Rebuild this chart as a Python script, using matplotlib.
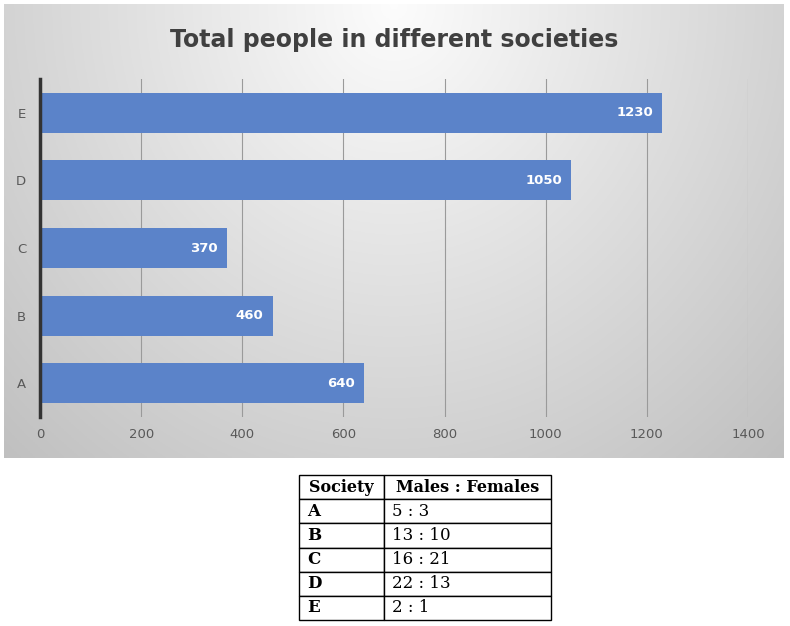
# -*- coding: utf-8 -*-
import numpy as np
import matplotlib
matplotlib.use("Agg")
import matplotlib.pyplot as plt

# Data
societies = ["A", "B", "C", "D", "E"]
totals = [640, 460, 370, 1050, 1230]
ratios = ["5 : 3", "13 : 10", "16 : 21", "22 : 13", "2 : 1"]
x_ticks = [0, 200, 400, 600, 800, 1000, 1200, 1400]

W, H = 790, 626
fig = plt.figure(figsize=(W / 100, H / 100), dpi=100)
fig.patch.set_facecolor("white")

# chart panel with radial grey gradient
bg = fig.add_axes([4 / W, 1 - 458 / H, 780 / W, 454 / H])
yy, xx = np.mgrid[0:1:200j, 0:1:300j]
r = np.sqrt(((xx - 0.5) / 0.8) ** 2 + ((yy - 0.0) / 1.5) ** 2)
shade = np.clip(0.99 - 0.26 * r, 0.74, 0.99)
bg.imshow(np.dstack([shade] * 3), aspect="auto", extent=[0, 1, 1, 0])
bg.set_axis_off()

ax = fig.add_axes([40 / W, 1 - 417 / H, 708 / W, 338 / H])
ax.patch.set_alpha(0)
ypos = np.arange(len(societies))
bars = ax.barh(ypos, totals, height=0.59, color="#5B83C9", zorder=3)
ax.set_xlim(0, 1400)
ax.set_ylim(-0.5, 4.5)
ax.set_xticks(x_ticks)
ax.set_yticks(ypos)
ax.set_yticklabels(societies)
ax.grid(axis="x", color="#9a9a9a", linewidth=0.8, zorder=1)
ax.tick_params(length=0, labelsize=9.5, labelcolor="#595959", pad=8)
ax.tick_params(axis="y", pad=10)
for s in ["top", "right", "bottom"]:
    ax.spines[s].set_visible(False)
ax.spines["left"].set_color("#333333")
ax.spines["left"].set_linewidth(2.5)
ax.spines["left"].set_zorder(4)

for rect, v in zip(bars, totals):
    ax.text(v - 18, rect.get_y() + rect.get_height() / 2, str(v),
            ha="right", va="center", color="white", fontsize=9.5,
            fontweight="bold", zorder=5)

fig.text(394 / W, 1 - 40 / H, "Total people in different societies",
         ha="center", va="center", fontsize=17, fontweight="bold",
         color="#404040")

# ratio table
tab_ax = fig.add_axes([299 / W, 1 - 620 / H, 252 / W, 145 / H])
tab_ax.set_axis_off()
cells = [[s, r] for s, r in zip(societies, ratios)]
tbl = tab_ax.table(cellText=cells, colLabels=["Society", "Males : Females"],
                   colWidths=[85 / 252, 167 / 252], cellLoc="left",
                   bbox=[0, 0, 1, 1])
tbl.auto_set_font_size(False)
for (row, col), cell in tbl.get_celld().items():
    cell.set_edgecolor("black")
    cell.set_linewidth(1.0)
    cell.PAD = 0.05 if col == 1 else 0.1
    t = cell.get_text()
    t.set_fontfamily("DejaVu Serif")
    t.set_fontsize(12)
    if row == 0 or col == 0:
        t.set_fontweight("bold")
    if row == 0:
        t.set_fontsize(11.5)
        t.set_ha("center")
        cell._loc = "center"

fig.savefig("out.png", dpi=100)
